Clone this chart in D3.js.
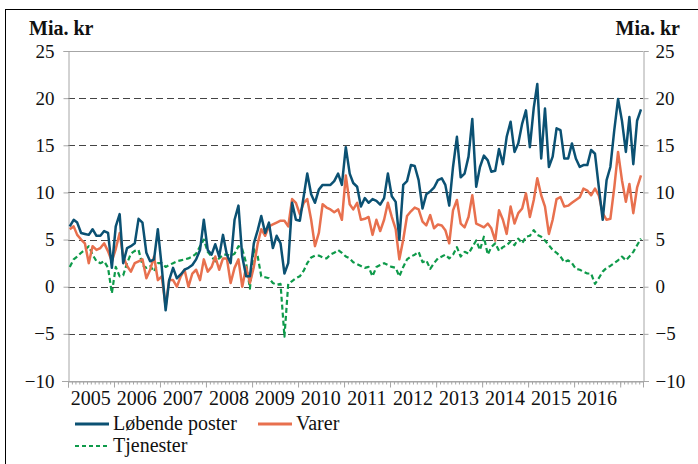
<!DOCTYPE html>
<html>
<head>
<meta charset="utf-8">
<script src="https://cdn.jsdelivr.net/npm/d3@7/dist/d3.min.js"></script>
<style>
  body { margin: 0; background: #fff; }
</style>
</head>
<body>
<div id="chart"></div>
<script>
// Monthly values, Jan 2005 - Jun 2017 (mia. kr)
const firstMonth = new Date(2005, 0, 1)
const lastMonth = new Date(2017, 6, 1)

const loebendePoster = [
  6.4, 7.1, 6.8, 5.7, 5.6, 5.5, 6.1, 5.4, 5.4, 5.9, 5.7, 2.0,
  6.4, 7.7, 2.5, 4.1, 4.3, 4.6, 7.2, 6.8, 3.6, 2.7, 2.9, 6.1,
  2.1, -2.5, 0.7, 2.0, 0.9, 1.3, 1.8, 2.0, 2.3, 2.9, 3.9, 7.1,
  3.9, 3.4, 4.5, 3.2, 5.5, 3.4, 2.5, 7.1, 8.6, 3.2, 1.1, 1.1,
  4.6, 6.0, 7.5, 5.7, 6.8, 4.1, 5.4, 4.6, 1.4, 2.5, 8.9, 7.1,
  7.0, 9.6, 12.0, 9.8, 8.9, 10.3, 10.8, 10.8, 10.8, 11.2, 12.0, 10.8,
  14.8, 12.0, 11.0, 10.6, 8.5, 9.4, 8.9, 9.3, 9.1, 8.7, 9.4, 12.0,
  9.6, 9.0, 5.0, 10.8, 11.2, 12.9, 12.8, 11.3, 8.3, 9.8, 10.1, 10.5,
  11.3, 11.5, 10.8, 8.6, 12.7, 15.9, 11.6, 12.0, 13.8, 17.8, 10.6, 12.7,
  13.9, 13.4, 12.2, 12.3, 14.6, 13.0, 15.9, 17.5, 14.3, 15.2, 17.3, 18.7,
  14.8, 19.0, 21.5, 13.6, 18.9, 12.7, 13.8, 16.8, 16.6, 13.6, 13.6, 15.2,
  13.6, 12.7, 12.9, 12.9, 14.5, 14.1, 10.6, 7.1, 11.3, 12.7, 16.6, 19.9,
  17.6, 14.3, 18.0, 13.0, 17.6, 18.8
]

const varer = [
  6.1, 6.4, 5.5, 5.0, 4.6, 2.5, 4.3, 3.9, 4.1, 4.6, 3.75, 2.7,
  4.0, 5.7, 3.2, 2.2, 1.6, 2.5, 2.7, 2.9, 0.9, 1.8, 3.2, 0.7,
  1.1, -2.1, 0.7, 0.7, 0.0, 1.1, 1.8, 0.0, 1.4, 1.8, 0.7, 2.9,
  1.6, 2.1, 3.2, 1.8, 3.0, 3.0, 0.4, 2.0, 2.9, 0.0, 2.1, 0.4,
  2.1, 4.6, 6.1, 5.4, 6.4, 6.6, 6.8, 7.0, 7.0, 6.4, 9.3, 8.9,
  7.7, 8.9, 9.3, 7.1, 4.3, 5.7, 8.75, 8.4, 8.2, 7.9, 8.2, 7.1,
  11.8, 8.75, 8.2, 8.9, 7.1, 7.2, 7.4, 5.5, 7.1, 5.9, 7.1, 8.9,
  7.4, 6.1, 2.9, 5.0, 7.5, 8.0, 8.4, 8.2, 6.9, 6.5, 7.6, 6.2,
  6.6, 6.5, 6.0, 4.6, 8.1, 9.2, 6.7, 6.3, 7.4, 9.7, 6.7, 6.5,
  6.3, 6.7, 6.2, 4.9, 8.1, 7.1, 5.6, 8.5, 6.7, 7.8, 8.3, 9.9,
  7.4, 9.2, 11.5, 9.7, 8.5, 5.6, 7.1, 9.3, 9.5, 8.5, 8.6, 8.9,
  9.2, 9.5, 10.4, 10.2, 9.7, 10.4, 9.7, 7.8, 7.1, 7.2, 10.5, 14.3,
  11.3, 9.0, 10.9, 7.8, 10.5, 11.8
]

const tjenester = [
  2.1, 2.9, 3.2, 3.6, 3.9, 4.3, 3.4, 2.7, 2.5, 2.7, 2.0, -0.7,
  2.1, 1.1, 1.2, 2.5, 3.5, 3.8, 3.9, 2.3, 2.0, 2.2, 1.6, 2.5,
  2.5, 2.1, 2.3, 2.5, 2.7, 2.8, 2.9, 3.0, 3.2, 3.5, 4.3, 5.0,
  3.7, 3.2, 2.7, 3.0, 3.4, 3.4, 3.3, 3.5, 4.3, 4.0, 2.5, -0.2,
  4.0, 3.2, 1.1, 1.0, 0.9, 0.4, 0.2, 0.3, -5.3, 0.3, 0.6, 0.9,
  1.1, 1.7, 2.5, 3.1, 3.3, 3.3, 3.1, 3.0, 3.4, 3.6, 3.9, 3.6,
  3.2, 3.0, 2.6, 2.4, 2.2, 2.0, 2.1, 1.1, 2.1, 2.3, 2.5, 2.3,
  2.1, 2.0, 1.1, 2.1, 2.9, 3.2, 3.4, 3.7, 2.6, 2.8, 1.9, 2.5,
  3.0, 3.2, 3.4, 3.0, 3.4, 4.2, 3.2, 3.7, 3.5, 4.2, 4.9, 3.9,
  5.3, 3.4, 4.2, 4.6, 3.8, 4.2, 4.4, 4.8, 4.4, 5.1, 4.6, 5.3,
  5.4, 6.0, 5.5, 5.3, 4.9, 4.4, 3.9, 3.6, 3.2, 2.6, 2.8, 2.5,
  1.9, 1.8, 1.6, 1.4, 1.4, 0.3, 0.9, 1.6, 2.0, 2.2, 2.5, 2.8,
  3.2, 2.8, 3.2, 3.7, 4.4, 5.1
]

const yearLabels = ['2005', '2006', '2007', '2008', '2009', '2010', '2011', '2012', '2013', '2014', '2015', '2016']
const yTicks = [-10, -5, 0, 5, 10, 15, 20, 25]
const unitLabel = 'Mia. kr'

const seriesInfo = [
  { name: 'Løbende poster', values: loebendePoster, color: '#0b5173', dash: null, width: 2.5 },
  { name: 'Varer', values: varer, color: '#e8704e', dash: null, width: 2.5 },
  { name: 'Tjenester', values: tjenester, color: '#0e9a4a', dash: '5,3', width: 2.2 }
]

;(() => {
  // Vars for dimensions
  const width = 698
  const height = 464
  const margin = { top: 51, right: 55, bottom: 83, left: 68 }
  const innerWidth = width - margin.left - margin.right
  const innerHeight = height - margin.top - margin.bottom
  const serif = "'Liberation Serif'"

  const months = d3.timeMonth.range(firstMonth, lastMonth)

  const svg = d3.select('#chart')
    .append('svg')
    .attr('width', width)
    .attr('height', height)

  // Outer frame (only top and left edges visible in the picture)
  svg.append('rect')
    .attr('x', 5.5)
    .attr('y', 9.5)
    .attr('width', width + 10)
    .attr('height', height + 10)
    .attr('fill', 'none')
    .attr('stroke', '#000')
    .attr('stroke-width', 1)

  const g = svg.append('g')
    .attr('transform', `translate(${margin.left}, ${margin.top})`)

  // Scales
  const x = d3.scaleTime().domain([firstMonth, lastMonth]).range([0, innerWidth])
  const y = d3.scaleLinear().domain([-10, 25]).range([innerHeight, 0])

  // Dashed gridlines
  g.append('g')
    .selectAll('line')
    .data(yTicks.filter(t => t > -10 && t < 25))
    .join('line')
    .attr('x1', 0)
    .attr('x2', innerWidth)
    .attr('y1', d => Math.round(y(d)) + 0.5)
    .attr('y2', d => Math.round(y(d)) + 0.5)
    .attr('stroke', '#444')
    .attr('stroke-dasharray', '7,4')

  // Top border of plot
  g.append('line')
    .attr('x1', 0).attr('x2', innerWidth)
    .attr('y1', Math.round(y(25)) + 0.5).attr('y2', Math.round(y(25)) + 0.5)
    .attr('stroke', '#a6a6a6')

  // Left axis
  const leftAxis = g.append('g')
    .attr('transform', 'translate(0.5, 0)')
    .call(d3.axisLeft(y).tickValues(yTicks).tickSize(5).tickPadding(9))
  leftAxis.selectAll('path, line').attr('stroke', '#a6a6a6')
  leftAxis.selectAll('text')
    .attr('fill', '#111')
    .style('font-family', serif)
    .style('font-size', '19px')

  // Right axis
  const rightAxis = g.append('g')
    .attr('transform', `translate(${innerWidth + 0.5}, 0)`)
    .call(d3.axisRight(y).tickValues(yTicks).tickSize(5).tickPadding(7))
  rightAxis.selectAll('path, line').attr('stroke', '#a6a6a6')
  rightAxis.selectAll('text')
    .attr('fill', '#111')
    .style('font-family', serif)
    .style('font-size', '19px')

  // Bottom axis - monthly minor ticks, yearly major ticks
  const bottom = g.append('g')
    .attr('transform', `translate(0, ${Math.round(innerHeight) + 0.5})`)
  bottom.call(d3.axisBottom(x).ticks(d3.timeMonth.every(1)).tickSize(3).tickFormat(''))
  bottom.append('g').call(d3.axisBottom(x).ticks(d3.timeYear.every(1)).tickSize(6).tickFormat(''))
  bottom.selectAll('path, line').attr('stroke', '#a6a6a6')
  bottom.select('.domain').attr('d', `M-6,0H${innerWidth + 6}`)

  // Year labels centred in each year
  g.append('g')
    .selectAll('text')
    .data(yearLabels)
    .join('text')
    .attr('x', d => x(new Date(+d, 6, 1)))
    .attr('y', innerHeight + 24)
    .attr('text-anchor', 'middle')
    .attr('fill', '#111')
    .style('font-family', serif)
    .style('font-size', '20px')
    .text(d => d)

  // Unit labels
  svg.append('text')
    .attr('x', 29).attr('y', 35)
    .attr('fill', '#111')
    .style('font-family', serif)
    .style('font-size', '20px')
    .style('font-weight', 'bold')
    .text(unitLabel)
  svg.append('text')
    .attr('x', 680).attr('y', 35)
    .attr('text-anchor', 'end')
    .attr('fill', '#111')
    .style('font-family', serif)
    .style('font-size', '20px')
    .style('font-weight', 'bold')
    .text(unitLabel)

  // Lines
  const line = d3.line()
    .x((d, i) => x(d3.timeDay.offset(months[i], 14)))
    .y(d => y(d))

  seriesInfo.slice().reverse().forEach(s => {
    g.append('path')
      .datum(s.values)
      .attr('fill', 'none')
      .attr('stroke', s.color)
      .attr('stroke-width', s.width)
      .attr('stroke-linejoin', 'round')
      .attr('stroke-dasharray', s.dash)
      .attr('d', line)
  })

  // Legend
  const legendPos = [
    { x: 75, y: 424 },
    { x: 258, y: 424 },
    { x: 75, y: 446 }
  ]
  const legend = svg.append('g')
  seriesInfo.forEach((s, i) => {
    const p = legendPos[i]
    legend.append('line')
      .attr('x1', p.x).attr('x2', p.x + 34)
      .attr('y1', p.y).attr('y2', p.y)
      .attr('stroke', s.color)
      .attr('stroke-width', s.dash ? 2 : 3)
      .attr('stroke-dasharray', s.dash ? '4,3' : null)
    legend.append('text')
      .attr('x', p.x + 38).attr('y', p.y + 6)
      .attr('fill', '#111')
      .style('font-family', serif)
      .style('font-size', '20px')
      .text(s.name)
  })
})()
</script>
</body>
</html>
